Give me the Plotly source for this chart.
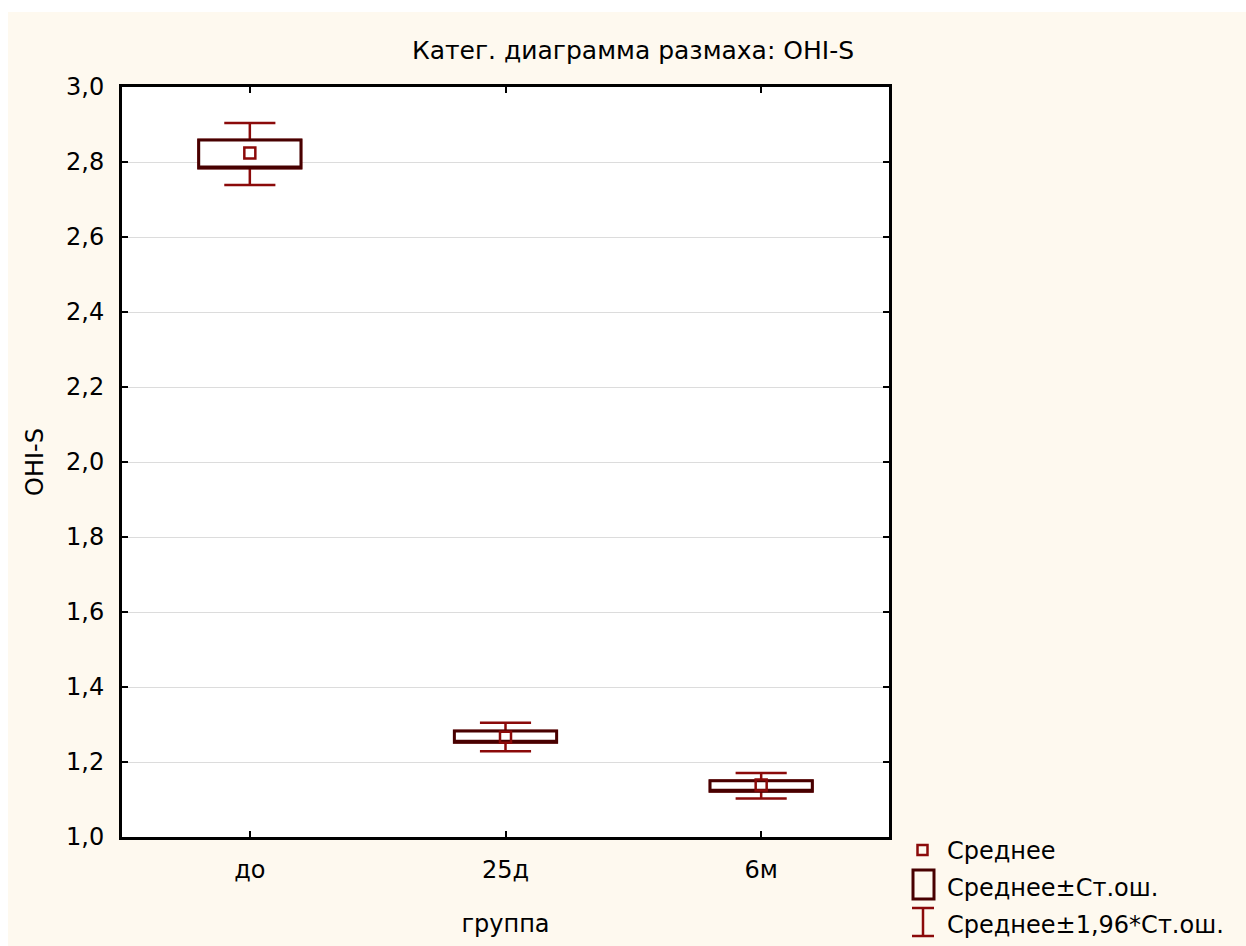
import plotly.graph_objects as go

# ---- data ----
categories = ["до", "25д", "6м"]
mean_vals = [2.824, 1.266, 1.139]
se_low = [2.784, 1.253, 1.122]
se_high = [2.859, 1.283, 1.150]
ci_low = [2.739, 1.229, 1.103]
ci_high = [2.904, 1.305, 1.171]
y_ticks = [1.0, 1.2, 1.4, 1.6, 1.8, 2.0, 2.2, 2.4, 2.6, 2.8, 3.0]

title_text = "Катег. диаграмма размаха: OHI-S"
x_title = "группа"
y_title = "OHI-S"
legend_labels = ["Среднее", "Среднее±Ст.ош.", "Среднее±1,96*Ст.ош."]

RED = "#8B0A0A"
DARK = "#480000"
CREAM = "#FEF9EF"
FONT = "DejaVu Sans"

W, H = 1246, 946
ML, MR, MT, MB = 122, 357, 87, 109
PW, PH = W - ML - MR, H - MT - MB


def px2x(px):
    return (px - ML) / PW


def px2y(py):
    return (H - MB - py) / PH


fig = go.Figure()

# whiskers (±1.96 SE), red
fig.add_trace(go.Box(
    x=categories, q1=se_low, median=mean_vals, q3=se_high,
    lowerfence=ci_low, upperfence=ci_high,
    width=0.4, whiskerwidth=0.5,
    line=dict(color=RED, width=2.5), fillcolor="white",
    boxpoints=False, showlegend=False, hoverinfo="skip",
))
# box (±SE), dark
fig.add_trace(go.Box(
    x=categories, q1=se_low, median=se_low, q3=se_high,
    lowerfence=se_low, upperfence=se_high,
    width=0.4, whiskerwidth=0,
    line=dict(color=DARK, width=3), fillcolor="white",
    boxpoints=False, showlegend=False, hoverinfo="skip",
))
# mean markers
fig.add_trace(go.Scatter(
    x=categories, y=mean_vals, mode="markers",
    marker=dict(symbol="square-open", size=11, color=RED, line=dict(color=RED, width=2.5)),
    showlegend=False, hoverinfo="skip",
))

# ---- manual legend ----
shapes = []
annotations = []
# white strips at top / left (outer frame)
shapes.append(dict(type="rect", xref="paper", yref="paper", layer="below",
                   x0=px2x(0), x1=px2x(W), y0=px2y(12), y1=px2y(0),
                   fillcolor="white", line=dict(width=0)))
shapes.append(dict(type="rect", xref="paper", yref="paper", layer="below",
                   x0=px2x(0), x1=px2x(8), y0=px2y(H), y1=px2y(0),
                   fillcolor="white", line=dict(width=0)))

# item 1: small square
shapes.append(dict(type="rect", xref="paper", yref="paper",
                   x0=px2x(917.5), x1=px2x(927.5), y0=px2y(855), y1=px2y(845),
                   line=dict(color=RED, width=2.5), fillcolor="rgba(0,0,0,0)"))
# item 2: big square
shapes.append(dict(type="rect", xref="paper", yref="paper",
                   x0=px2x(913), x1=px2x(934), y0=px2y(899), y1=px2y(870),
                   line=dict(color=DARK, width=3), fillcolor="rgba(0,0,0,0)"))
# item 3: I-beam
for (x0, y0, x1, y1) in [(912, 908, 934, 908), (912, 936, 934, 936), (923, 908, 923, 936)]:
    shapes.append(dict(type="line", xref="paper", yref="paper",
                       x0=px2x(x0), x1=px2x(x1), y0=px2y(y0), y1=px2y(y1),
                       line=dict(color=RED, width=2.5)))
for lbl, yc in zip(legend_labels, [851, 888, 925]):
    annotations.append(dict(text=lbl, xref="paper", yref="paper",
                            x=px2x(945), y=px2y(yc), xanchor="left", yanchor="middle",
                            showarrow=False, font=dict(family=FONT, size=24, color="black")))

fig.update_layout(
    width=W, height=H,
    margin=dict(l=ML, r=MR, t=MT, b=MB),
    paper_bgcolor=CREAM, plot_bgcolor="white",
    separators=", ",
    boxmode="overlay",
    showlegend=False,
    title=dict(text=title_text, x=633 / W, xanchor="center", xref="container",
               y=1 - 50 / H, yanchor="middle", yref="container",
               font=dict(family=FONT, size=25, color="black")),
    font=dict(family=FONT, size=24, color="black"),
    shapes=shapes,
    annotations=annotations,
)

fig.update_xaxes(
    type="category", range=[-0.5, 2.5],
    showline=True, linecolor="black", linewidth=3, mirror="ticks",
    ticks="inside", ticklen=6, tickwidth=2, tickcolor="black",
    showgrid=False, zeroline=False,
    tickfont=dict(family=FONT, size=24, color="black"),
    ticklabelstandoff=9,
    title=dict(text=x_title, standoff=33, font=dict(family=FONT, size=24, color="black")),
)
fig.update_yaxes(
    range=[1.0, 3.0], tickvals=y_ticks, tickformat=".1f",
    showline=True, linecolor="black", linewidth=3, mirror="ticks",
    ticks="inside", ticklen=6, tickwidth=2, tickcolor="black",
    showgrid=True, gridcolor="#DCDCDC", gridwidth=1, zeroline=False,
    tickfont=dict(family=FONT, size=24, color="black"),
    ticklabelstandoff=10,
    title=dict(text=y_title, standoff=16, font=dict(family=FONT, size=24, color="black")),
)

fig.write_html("out.html")
